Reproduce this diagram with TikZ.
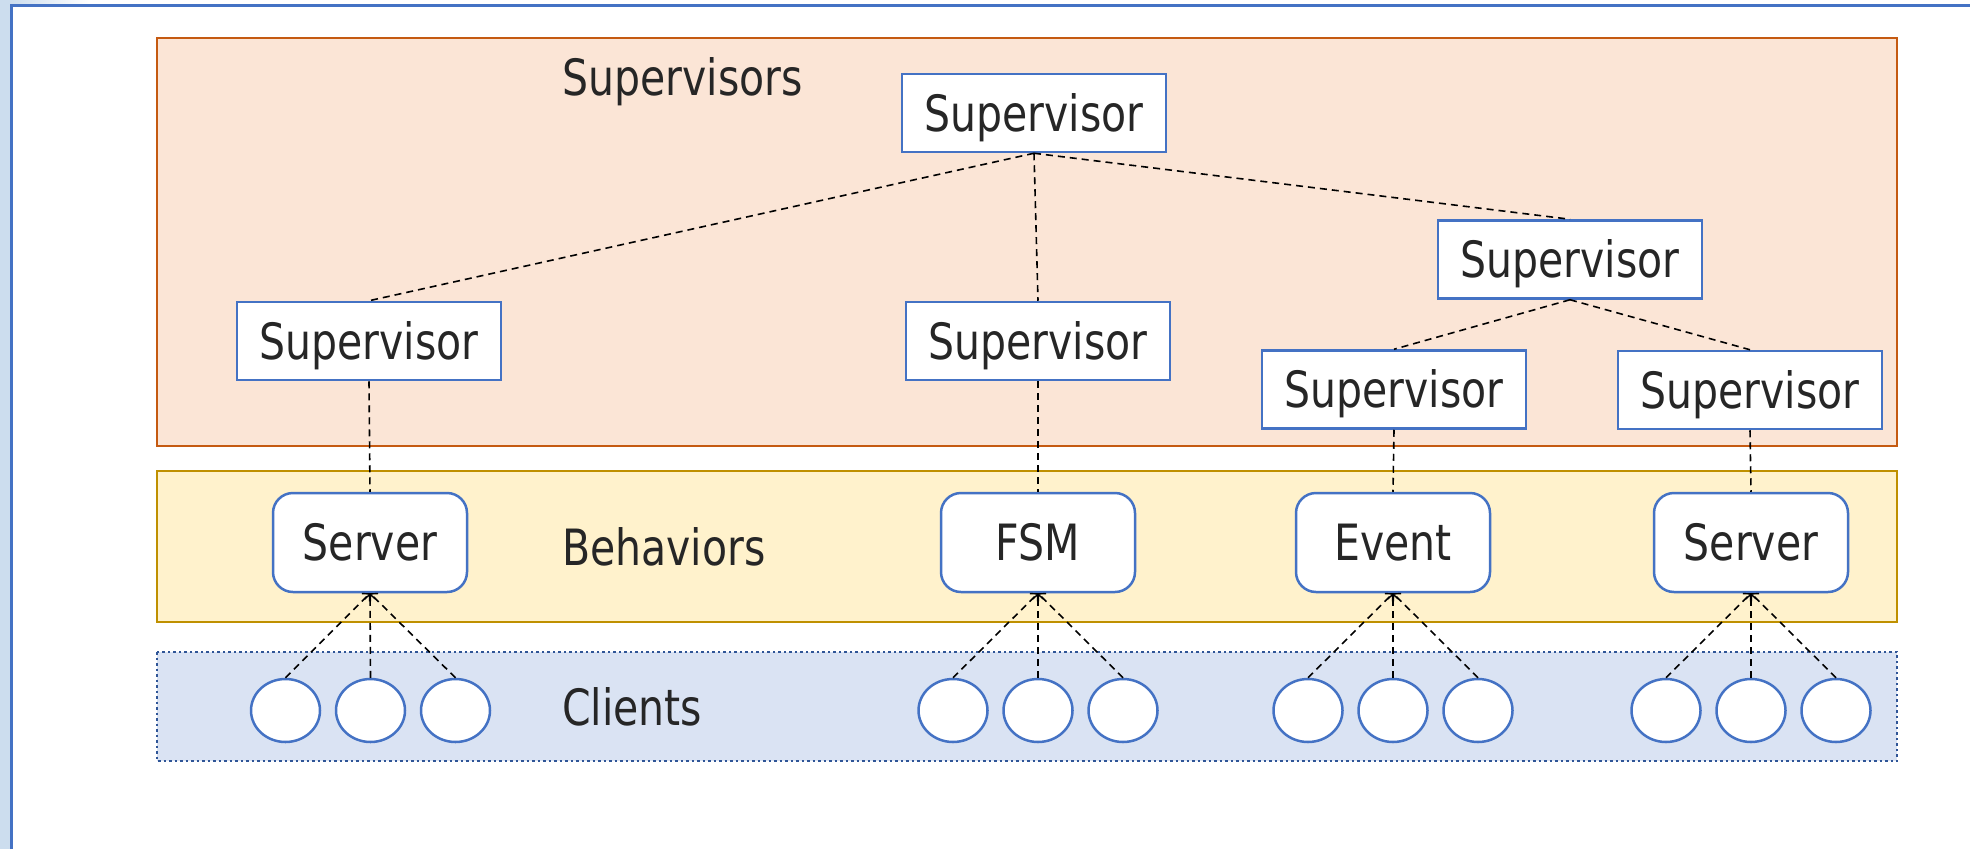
\documentclass[tikz,border=0pt]{standalone}
\usepackage{fontspec}
\setmainfont{DejaVu Sans}[FakeStretch=0.82]
\usetikzlibrary{arrows.meta,shapes.geometric}
\definecolor{supfill}{HTML}{FBE5D6}
\definecolor{supdraw}{HTML}{C55A11}
\definecolor{behfill}{HTML}{FFF2CC}
\definecolor{behdraw}{HTML}{BF9000}
\definecolor{clifill}{HTML}{DAE3F3}
\definecolor{clidraw}{HTML}{2F5597}
\definecolor{nodeblue}{HTML}{4472C4}
\definecolor{strip}{HTML}{CCDDEE}
\definecolor{txt}{HTML}{262626}
\begin{document}
\begin{tikzpicture}[x=1pt,y=-1pt,
  font=\fontsize{50}{60}\selectfont,
  supbox/.style={draw=nodeblue, fill=white, line width=2.5pt, minimum width=264pt, minimum height=78pt, inner sep=0pt, text height=36pt, text depth=0pt, text=txt},
  behbox/.style={draw=nodeblue, fill=white, line width=2.5pt, rounded corners=20pt, minimum width=194pt, minimum height=99pt, inner sep=0pt, text height=36pt, text depth=0pt, text=txt},
  clibox/.style={ellipse, draw=nodeblue, fill=white, line width=2.5pt, minimum width=69pt, minimum height=63pt, inner sep=0pt},
  lbl/.style={anchor=base west, inner sep=0pt, text=txt},
  conn/.style={draw=black, line width=1.6pt, dash pattern=on 7pt off 5pt},
  carrow/.style={conn, -{Straight Barb[length=5pt,width=11pt,line width=1.4pt]}}
]
\useasboundingbox (0,0) rectangle (1970,849);
% window frame
\fill[strip] (0,0) rectangle (10,849);
\shade[left color=strip, right color=white] (10,0) rectangle (90,4);
\draw[nodeblue, line width=3pt] (11.5,849) -- (11.5,5.5) -- (1970,5.5);

% regions
\draw[fill=supfill, draw=supdraw, line width=2.5pt] (157,38) rectangle (1897,446);
\draw[fill=behfill, draw=behdraw, line width=2.5pt] (157,471) rectangle (1897,622);
\draw[fill=clifill, draw=clidraw, line width=2.5pt, dash pattern=on 2.5pt off 3pt] (157,652) rectangle (1897,761);

% labels
\node[lbl] (lsup) at (562,95) {Supervisors};
\node[lbl] (lbeh) at (562,565) {Behaviors};
\node[lbl] (lcli) at (562,725) {Clients};

% supervisors
\node[supbox] (s0) at (1034,113) {Supervisor};
\node[supbox] (s1) at (369,341) {Supervisor};
\node[supbox] (s2) at (1038,341) {Supervisor};
\node[supbox] (s3) at (1570,259.5) {Supervisor};
\node[supbox] (s4) at (1394,389.5) {Supervisor};
\node[supbox] (s5) at (1750,390) {Supervisor};

% behaviors
\node[behbox] (b1) at (370,542.5) {Server};
\node[behbox] (b2) at (1038,542.5) {FSM};
\node[behbox] (b3) at (1393,542.5) {Event};
\node[behbox] (b4) at (1751,542.5) {Server};

% clients
\foreach \g/\cx in {1/370.5, 2/1038, 3/1393, 4/1751} {
  \node[clibox] (c\g a) at (\cx-85,710.5) {};
  \node[clibox] (c\g b) at (\cx,710.5) {};
  \node[clibox] (c\g c) at (\cx+85,710.5) {};
}

% supervisor tree
\draw[conn] (s0.south) -- (s1.north);
\draw[conn] (s0.south) -- (s2.north);
\draw[conn] (s0.south) -- (s3.north);
\draw[conn] (s3.south) -- (s4.north);
\draw[conn] (s3.south) -- (s5.north);
\draw[conn] (s1.south) -- (b1.north);
\draw[conn] (s2.south) -- (b2.north);
\draw[conn] (s4.south) -- (b3.north);
\draw[conn] (s5.south) -- (b4.north);

% clients to behaviors
\foreach \g in {1,2,3,4} {
  \draw[carrow] (c\g a.north) -- (b\g.south);
  \draw[carrow] (c\g b.north) -- (b\g.south);
  \draw[carrow] (c\g c.north) -- (b\g.south);
}
\end{tikzpicture}
\end{document}
